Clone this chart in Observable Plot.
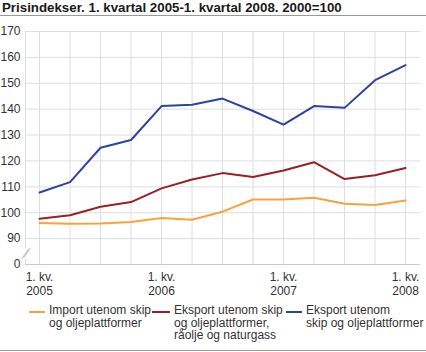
<!DOCTYPE html>
<html>
<head>
<meta charset="utf-8">
<script src="https://cdn.jsdelivr.net/npm/d3@7"></script>
<script src="https://cdn.jsdelivr.net/npm/@observablehq/plot@0.6"></script>
<style>
  html, body { margin: 0; padding: 0; background: #fff; }
  body { width: 426px; height: 352px; overflow: hidden; font-family: "Liberation Sans", Arial, sans-serif; }
  #title { font-size: 13.3px; font-weight: bold; line-height: 15px; height: 15px; padding-left: 2px; color: #1a1a1a; border-bottom: 1px solid #9a9a9a; white-space: nowrap; }
  #chart svg { display: block; }
  #legend { position: relative; height: 50px; border-bottom: 1px solid #9a9a9a; font-size: 12px; line-height: 12.5px; color: #333; }
  .item { position: absolute; top: 4px; display: flex; align-items: flex-start; }
  .sw { height: 2px; margin-top: 7px; margin-right: 4px; }
  .lab { white-space: pre; }
</style>
</head>
<body>
<div id="title"></div>
<div id="chart"></div>
<div id="legend"></div>
<script>
// ---- data ----
const titleText = "Prisindekser. 1. kvartal 2005-1. kvartal 2008. 2000=100";
const quarters = ["1. kv. 2005","2. kv. 2005","3. kv. 2005","4. kv. 2005",
                  "1. kv. 2006","2. kv. 2006","3. kv. 2006","4. kv. 2006",
                  "1. kv. 2007","2. kv. 2007","3. kv. 2007","4. kv. 2007",
                  "1. kv. 2008"];
const importValues  = [96.0, 95.7, 95.8, 96.4, 98.0, 97.3, 100.4, 105.1, 105.1, 105.8, 103.5, 103.0, 104.7];
const eksportRaoljeValues = [97.7, 99.0, 102.3, 104.1, 109.4, 112.8, 115.3, 113.8, 116.3, 119.5, 113.0, 114.5, 117.3];
const eksportValues = [107.8, 111.8, 125.1, 128.1, 141.2, 141.7, 144.1, 139.3, 134.0, 141.2, 140.5, 151.2, 157.0];
const seriesNames = ["Import utenom skip\nog oljeplattformer",
                     "Eksport utenom skip\nog oljeplattformer,\nråolje og naturgass",
                     "Eksport utenom\nskip og oljeplattformer"];
const seriesColors = ["#f9a23c", "#9c1f26", "#2a44a0"];
const yTicks = [0, 90, 100, 110, 120, 130, 140, 150, 160, 170];
const xTickQuarterLabels = ["1. kv.", "1. kv.", "1. kv.", "1. kv."];
const xTickYearLabels = ["2005", "2006", "2007", "2008"];

// ---- build ----
document.getElementById("title").textContent = titleText;

const seriesValues = [importValues, eksportRaoljeValues, eksportValues];
const rows = [];
seriesValues.forEach((vals, s) => vals.forEach((v, i) => rows.push({series: seriesNames[s], i, value: v})));

const BREAK_POS = 80;              // axis value where "0" is drawn (broken axis)
const yPos = v => v === 0 ? BREAK_POS : v;
const xIdx = quarters.map((_, i) => i);
const xTickIdx = xIdx.filter(i => quarters[i].startsWith("1. kv."));
const xMin = -0.46, xMax = 12.49;
const grid = "#dcdce3";

const chart = Plot.plot({
  width: 426, height: 284,
  marginTop: 15, marginBottom: 36, marginLeft: 25, marginRight: 6,
  x: {domain: [xMin, xMax], axis: null},
  y: {domain: [BREAK_POS, 170], axis: null},
  color: {domain: seriesNames, range: seriesColors},
  style: {fontFamily: "'Liberation Sans', Arial, sans-serif", fontSize: "12px", color: "#333", background: "white", overflow: "visible"},
  marks: [
    Plot.ruleY(yTicks.filter(v => v !== 0), {stroke: grid, strokeWidth: 1}),
    Plot.ruleX(xIdx, {stroke: grid, strokeWidth: 1}),
    Plot.ruleY([BREAK_POS], {stroke: "#c9c9d1"}),
    Plot.ruleX([xMin], {y1: 86.3, y2: 170, stroke: grid}),
    Plot.ruleX([xMin], {y1: BREAK_POS, y2: 82.0, stroke: grid}),
    Plot.link([0, 1], {x1: d => xMin - 0.11 + d * 0.07, x2: d => xMin + 0.09 + d * 0.07,
                       y1: d => 82.3 + d * 0.6, y2: d => 85.9 + d * 0.6,
                       stroke: "#b8b8c0", strokeWidth: 1}),
    Plot.axisY(yTicks.map(yPos), {tickSize: 0, tickPadding: 5, fontSize: 12, label: null,
                       tickFormat: d => d === BREAK_POS ? "0" : String(d)}),
    Plot.axisX(xTickIdx, {tickSize: 0, tickPadding: 8, fontSize: 12, label: null,
                       tickFormat: d => xTickQuarterLabels[xTickIdx.indexOf(d)]}),
    Plot.axisX(xTickIdx, {tickSize: 0, tickPadding: 21.5, fontSize: 12, label: null,
                       tickFormat: d => xTickYearLabels[xTickIdx.indexOf(d)]}),
    Plot.line(rows, {x: "i", y: "value", z: "series", stroke: "series", strokeWidth: 2, strokeLinejoin: "round"})
  ]
});
document.getElementById("chart").appendChild(chart);

// ---- legend ----
const legend = document.getElementById("legend");
const itemLeft = [29, 152, 286];
const swatchW = [16, 18, 16];
seriesNames.forEach((name, s) => {
  const it = document.createElement("div");
  it.className = "item";
  it.style.left = itemLeft[s] + "px";
  const sw = document.createElement("div");
  sw.className = "sw";
  sw.style.width = swatchW[s] + "px";
  sw.style.background = seriesColors[s];
  const lab = document.createElement("div");
  lab.className = "lab";
  lab.textContent = name;
  it.appendChild(sw); it.appendChild(lab);
  legend.appendChild(it);
});
</script>
</body>
</html>
